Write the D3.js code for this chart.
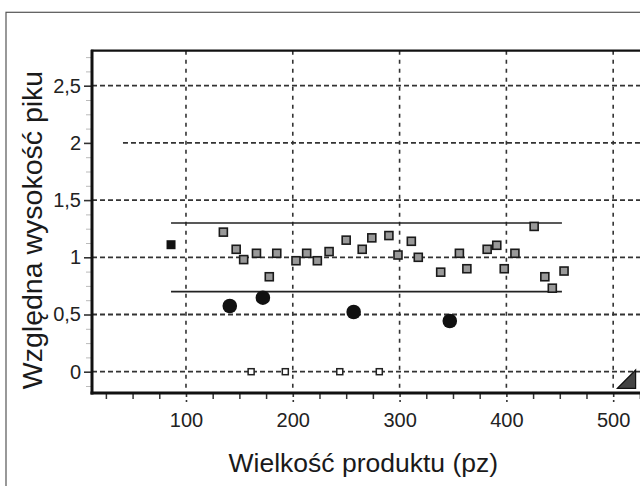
<!DOCTYPE html>
<html><head><meta charset="utf-8">
<script src="https://cdn.jsdelivr.net/npm/d3@7"></script>
<style>body{margin:0;background:#fff;} svg{display:block;}</style>
</head><body><svg id="c" width="640" height="486"></svg>
<script>
// ---- data ----
const yTicks = [0, 0.5, 1, 1.5, 2, 2.5];
const xTicks = [100, 200, 300, 400, 500];
const xMinorTicks = [25, 50, 75, 125, 150, 175, 225, 250, 275, 325, 350, 375, 425, 450, 475, 525, 550];
const yMinorTicks = [-0.125, 0.125, 0.25, 0.375, 0.625, 0.75, 0.875, 1.125, 1.25, 1.375, 1.625, 1.75, 1.875, 2.125, 2.25, 2.375, 2.625, 2.75];
const gridStart = [12, 12, 12, 12, 41, 12]; // x value where each horizontal gridline begins

const blackX = [86];
const blackY = [1.11];
const greyX = [135, 147, 154, 166, 178, 185, 203, 213, 223, 234, 250, 265, 274, 290, 298.5, 311, 317.5, 338.5, 356, 363, 382, 391, 398, 408, 426, 436, 443, 454];
const greyY = [1.22, 1.07, 0.98, 1.035, 0.83, 1.035, 0.97, 1.035, 0.97, 1.05, 1.15, 1.07, 1.17, 1.19, 1.02, 1.14, 1.0, 0.87, 1.035, 0.90, 1.07, 1.105, 0.90, 1.035, 1.27, 0.83, 0.73, 0.88];
const circleX = [141, 172, 257, 347];
const circleY = [0.574, 0.647, 0.522, 0.443];
const zeroX = [161, 193, 244, 281];
const zeroY = [0, 0, 0, 0];
const limitY = [1.3, 0.7];
const limitX = [86, 452];
const triX = [504, 521, 521];
const triY = [-0.145, 0.015, -0.145];

const xTitle = "Wielkość produktu (pz)";
const yTitle = "Względna wysokość piku";

// ---- layout ----
const svg = d3.select("#c");
const L = 92, T = 50.7, B = 393, R = 700;
const x = d3.scaleLinear().domain([12, 570]).range([L, L + 558 * 1.068]);
const y = d3.scaleLinear().domain([0, 2.5]).range([371.7, 85.7]);
const fmt = d => String(d).replace(".", ",");
const FONT = "'Liberation Sans', Arial, sans-serif";

// outer frame
svg.append("rect").attr("x", 6).attr("y", 12.3).attr("width", 700).attr("height", 600)
  .attr("fill", "#fff").attr("stroke", "#555").attr("stroke-width", 1.2);

// horizontal gridlines
svg.append("g").selectAll("line").data(yTicks).join("line")
  .attr("x1", (d, i) => x(gridStart[i])).attr("x2", R)
  .attr("y1", d => y(d)).attr("y2", d => y(d))
  .attr("stroke", "#333").attr("stroke-width", 1.8).attr("stroke-dasharray", "5,3");

// vertical gridlines
svg.append("g").selectAll("line").data(xTicks).join("line")
  .attr("x1", d => x(d)).attr("x2", d => x(d))
  .attr("y1", T).attr("y2", B)
  .attr("stroke", "#333").attr("stroke-width", 1.6).attr("stroke-dasharray", "4,5");

// y minor ticks (faint)
const yMinorAxis = svg.append("g").attr("transform", `translate(${L},0)`)
  .call(d3.axisLeft(y).tickValues(yMinorTicks).tickSize(6).tickFormat(""));
yMinorAxis.select(".domain").remove();
yMinorAxis.selectAll("line").attr("stroke", "#bbb").attr("stroke-width", 1);

// x minor ticks
const xMinorAxis = svg.append("g").attr("transform", `translate(0,${B})`)
  .call(d3.axisBottom(x).tickValues(xMinorTicks).tickSize(6).tickFormat(""));
xMinorAxis.select(".domain").remove();
xMinorAxis.selectAll("line").attr("stroke", "#333").attr("stroke-width", 1.5);

// y axis major
const yAxis = svg.append("g").attr("transform", `translate(${L},0)`)
  .call(d3.axisLeft(y).tickValues(yTicks).tickSize(8).tickPadding(3).tickFormat(fmt));
yAxis.select(".domain").remove();
yAxis.selectAll("line").attr("stroke", "#333").attr("stroke-width", 1.6);
yAxis.selectAll("text").attr("font-family", FONT).attr("font-size", 20).attr("fill", "#222");

// x axis major
const xAxis = svg.append("g").attr("transform", `translate(0,${B})`)
  .call(d3.axisBottom(x).tickValues(xTicks).tickSize(9).tickPadding(11).tickFormat(d3.format("d")));
xAxis.select(".domain").remove();
xAxis.selectAll("line").attr("stroke", "#333").attr("stroke-width", 1.6).attr("stroke-dasharray", "4,3");
xAxis.selectAll("text").attr("font-family", FONT).attr("font-size", 20).attr("fill", "#222");

// axis frame lines
svg.append("line").attr("x1", L - 1).attr("x2", R).attr("y1", T).attr("y2", T)
  .attr("stroke", "#111").attr("stroke-width", 2.2);
svg.append("line").attr("x1", L).attr("x2", L).attr("y1", T - 1).attr("y2", B + 1.5)
  .attr("stroke", "#111").attr("stroke-width", 3);
svg.append("line").attr("x1", L - 1.5).attr("x2", R).attr("y1", B).attr("y2", B)
  .attr("stroke", "#111").attr("stroke-width", 3);

// limit lines
svg.append("g").selectAll("line").data(limitY).join("line")
  .attr("x1", x(limitX[0])).attr("x2", x(limitX[1]))
  .attr("y1", d => y(d)).attr("y2", d => y(d))
  .attr("stroke", "#222").attr("stroke-width", 1.6);

// grey squares
const gs = 8;
svg.append("g").selectAll("rect").data(greyX.map((v, i) => [v, greyY[i]])).join("rect")
  .attr("x", d => x(d[0]) - gs / 2).attr("y", d => y(d[1]) - gs / 2)
  .attr("width", gs).attr("height", gs)
  .attr("fill", "#999").attr("stroke", "#1a1a1a").attr("stroke-width", 1.6);

// black square
const bs = 9;
svg.append("g").selectAll("rect").data(blackX.map((v, i) => [v, blackY[i]])).join("rect")
  .attr("x", d => x(d[0]) - bs / 2).attr("y", d => y(d[1]) - bs / 2)
  .attr("width", bs).attr("height", bs).attr("fill", "#111");

// zero squares
const zs = 6;
svg.append("g").selectAll("rect").data(zeroX.map((v, i) => [v, zeroY[i]])).join("rect")
  .attr("x", d => x(d[0]) - zs / 2).attr("y", d => y(d[1]) - zs / 2)
  .attr("width", zs).attr("height", zs)
  .attr("fill", "#fff").attr("stroke", "#222").attr("stroke-width", 1.5);

// circles
svg.append("g").selectAll("circle").data(circleX.map((v, i) => [v, circleY[i]])).join("circle")
  .attr("cx", d => x(d[0])).attr("cy", d => y(d[1])).attr("r", 7.3).attr("fill", "#111");

// triangle marker
svg.append("path")
  .attr("d", d3.line()(triX.map((v, i) => [x(v), y(triY[i])])) + "Z")
  .attr("fill", "#444").attr("stroke", "#111").attr("stroke-width", 1.2);

// titles
svg.append("text").attr("x", 363.3).attr("y", 471.7).attr("text-anchor", "middle")
  .attr("font-family", FONT).attr("font-size", 26.5).attr("fill", "#1a1a1a").text(xTitle);
svg.append("text").attr("transform", "translate(41.7,230) rotate(-90)").attr("text-anchor", "middle")
  .attr("font-family", FONT).attr("font-size", 28.5).attr("fill", "#1a1a1a").text(yTitle);
</script></body></html>
